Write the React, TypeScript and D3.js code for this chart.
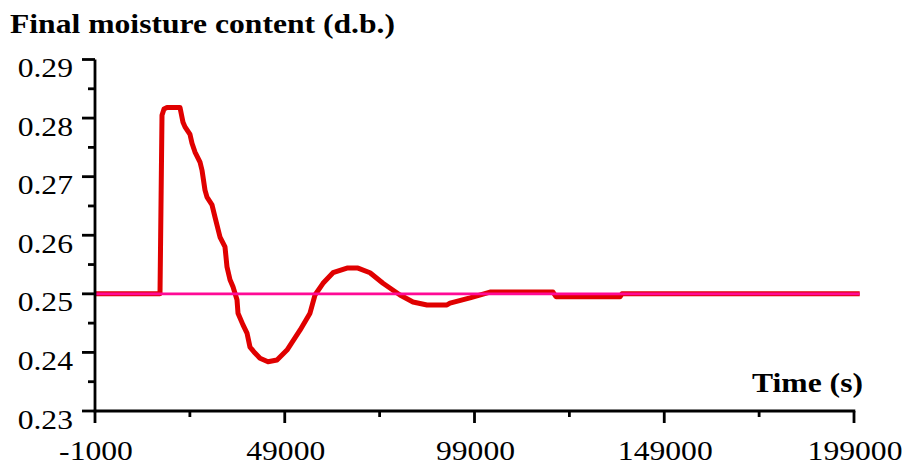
import React from "react";
import * as d3 from "d3";

const timeValues: number[] = [
  -1000, 16128, 16655, 17182, 17972, 21398, 22188, 22715, 24033, 24560, 25350,
  26668, 27195, 27985, 28512, 29830, 30620, 31938, 33255, 33782, 34573, 35363,
  36417, 36681, 37998, 39052, 39843, 41160, 42478, 44586, 46957, 49592, 53018,
  55653, 56970, 59078, 61713, 65402, 68301, 71463, 74888, 79368, 82793, 86482,
  91752, 92543, 97813, 103083, 119683, 120474, 137338, 137865, 200500,
];
const moistureValues: number[] = [
  0.25, 0.25, 0.2805, 0.28155, 0.2818, 0.2818, 0.2793, 0.2785, 0.2772, 0.2757,
  0.2742, 0.2725, 0.2711, 0.2677, 0.2665, 0.2652, 0.2631, 0.2597, 0.258, 0.2546,
  0.2524, 0.2512, 0.249, 0.2467, 0.2447, 0.2433, 0.2409, 0.2399, 0.239, 0.2384,
  0.2387, 0.2404, 0.2438, 0.2467, 0.2498, 0.2518, 0.2536, 0.2544, 0.2544,
  0.2536, 0.2518, 0.2498, 0.2486, 0.2481, 0.2481, 0.2484, 0.2493, 0.2503,
  0.2503, 0.2495, 0.2495, 0.25, 0.25,
];
const setpointTime: number[] = [-1000, 200500];
const setpointValue: number[] = [0.25, 0.25];

const xTicks: number[] = [-1000, 49000, 99000, 149000, 199000];
const xMinorTicks: number[] = [24000, 74000, 124000, 174000];
const yTicks: number[] = [0.23, 0.24, 0.25, 0.26, 0.27, 0.28, 0.29];
const yMinorTicks: number[] = [0.235, 0.245, 0.255, 0.265, 0.275, 0.285];

const titleText = "Final moisture content (d.b.)";
const xLabelText = "Time (s)";

export default function App() {
  const W = 908;
  const H = 465;
  const x = d3.scaleLinear().domain([-1000, 199000]).range([95, 854]);
  const y = d3.scaleLinear().domain([0.23, 0.29]).range([411, 59.5]);
  const font = "'Liberation Serif', 'Times New Roman', serif";
  const sx = 1.13;
  const fs = 28;

  const curve = timeValues.map((t, i) => [t, moistureValues[i]] as [number, number]);
  const sp = setpointTime.map((t, i) => [t, setpointValue[i]] as [number, number]);
  const line = d3
    .line<[number, number]>()
    .x((d) => x(d[0]))
    .y((d) => y(d[1]))
    .curve(d3.curveLinear);

  const x0 = x(-1000);
  const y0 = y(0.23);

  return (
    <svg
      width={W}
      height={H}
      style={{ position: "absolute", left: 0, top: 0, background: "#fff" }}
    >
      <path d={line(curve) || ""} fill="none" stroke="#e00000" strokeWidth={5} strokeLinejoin="round" />
      <path d={line(sp) || ""} fill="none" stroke="#ff0a96" strokeWidth={2.8} />

      {/* axes */}
      <line x1={x0} x2={x0} y1={y(0.29)} y2={y0 + 1.2} stroke="#000" strokeWidth={2.8} />
      <line x1={x0 - 1.2} x2={x(199000) + 1.3} y1={y0} y2={y0} stroke="#000" strokeWidth={2.8} />
      {yTicks.map((v) => (
        <line key={"ym" + v} x1={x0 - 13} x2={x0} y1={y(v)} y2={y(v)} stroke="#000" strokeWidth={2.8} />
      ))}
      {yMinorTicks.map((v) => (
        <line key={"yn" + v} x1={x0 - 7} x2={x0} y1={y(v)} y2={y(v)} stroke="#000" strokeWidth={2.8} />
      ))}
      {xTicks.map((v) => (
        <line key={"xm" + v} x1={x(v)} x2={x(v)} y1={y0} y2={y0 + 12} stroke="#000" strokeWidth={2.8} />
      ))}
      {xMinorTicks.map((v) => (
        <line key={"xn" + v} x1={x(v)} x2={x(v)} y1={y0} y2={y0 + 6} stroke="#000" strokeWidth={2.8} />
      ))}

      {yTicks.map((v) => (
        <text
          key={"yl" + v}
          transform={`translate(73,${y(v) + 17.5}) scale(${sx},1)`}
          textAnchor="end"
          fontFamily={font}
          fontSize={fs}
          fill="#000"
        >
          {d3.format(".2f")(v)}
        </text>
      ))}
      {xTicks.map((v) => (
        <text
          key={"xl" + v}
          transform={`translate(${x(v) + 1},460) scale(${sx},1)`}
          textAnchor="middle"
          fontFamily={font}
          fontSize={fs}
          fill="#000"
        >
          {String(v)}
        </text>
      ))}

      <text
        transform={`translate(10,33) scale(${sx},1)`}
        fontFamily={font}
        fontSize={fs}
        fontWeight="bold"
        fill="#000"
      >
        {titleText}
      </text>
      <text
        transform={`translate(863,392) scale(${sx},1)`}
        textAnchor="end"
        fontFamily={font}
        fontSize={fs}
        fontWeight="bold"
        fill="#000"
      >
        {xLabelText}
      </text>
    </svg>
  );
}
